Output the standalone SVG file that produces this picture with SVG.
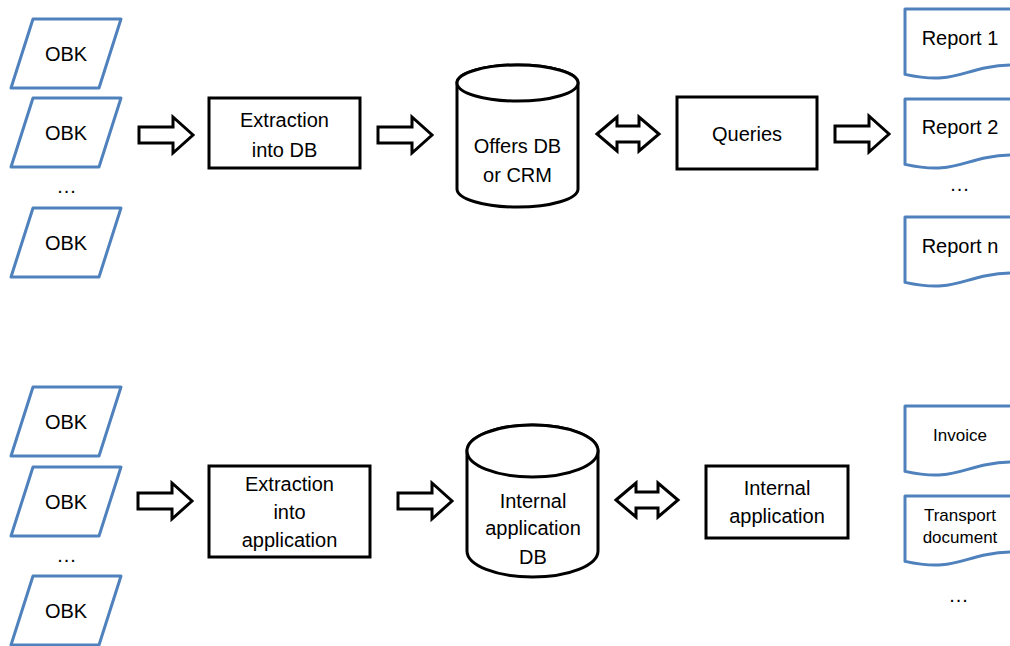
<svg xmlns="http://www.w3.org/2000/svg" width="1010" height="646" viewBox="0 0 1010 646">
<defs>
<style>
.io{fill:#fff;stroke:#4F81BD;stroke-width:3;stroke-linejoin:round}
.doc{fill:#fff;stroke:#4F81BD;stroke-width:3;stroke-linejoin:round}
.box{fill:#fff;stroke:#000;stroke-width:3}
.cyl{fill:#fff;stroke:#000;stroke-width:3}
.arr{fill:#fff;stroke:#000;stroke-width:3;stroke-linejoin:miter}
text{font-family:"Liberation Sans",Arial,sans-serif;font-size:20px;fill:#000;text-anchor:middle}
.sm{font-size:17px}
.dots{letter-spacing:1px}
</style>
<path id="io" d="M22,0 H110 L88,69 H0 Z"/>
<path id="doc" d="M0,0 H112 V56 C56,56 56,77.5 0,65.4 Z"/>
<path id="ra" d="M0,-8 H34 V-18 L54,0 L34,18 V8 H0 Z"/>
<path id="da" d="M0,0 L20,-17 V-8 H42 V-17 L62,0 L42,17 V8 H20 V17 Z"/>
</defs>
<rect width="1010" height="646" fill="#fff"/>

<g id="connectors">
<use href="#ra" class="arr" x="139" y="135"/>
<use href="#ra" class="arr" x="378" y="135"/>
<use href="#da" class="arr" x="597" y="134"/>
<use href="#ra" class="arr" x="835" y="134"/>
<use href="#ra" class="arr" x="138" y="501"/>
<use href="#ra" class="arr" x="398" y="501"/>
<use href="#da" class="arr" x="616" y="500"/>
</g>

<g id="obk1"><use href="#io" class="io" x="11" y="19"/><text x="66" y="61">OBK</text></g>
<g id="obk2"><use href="#io" class="io" x="11" y="98"/><text x="66" y="140">OBK</text></g>
<g id="dots1"><text class="dots" x="67" y="193">...</text></g>
<g id="obk3"><use href="#io" class="io" x="11" y="208"/><text x="66" y="250">OBK</text></g>

<g id="extract-db"><rect class="box" x="209" y="98" width="151" height="70"/><text x="284.5" y="127">Extraction</text><text x="284.5" y="157">into DB</text></g>

<g id="offers-db">
<path class="cyl" d="M457,83 V189 A60.5,18 0 0 0 578,189 V83 A60.5,18 0 0 0 457,83 Z"/>
<ellipse class="cyl" cx="517.5" cy="83" rx="60.5" ry="18"/>
<text x="517.5" y="153">Offers DB</text><text x="517.5" y="182">or CRM</text>
</g>

<g id="queries"><rect class="box" x="677" y="97" width="140" height="72"/><text x="747" y="141">Queries</text></g>

<g id="report1"><use href="#doc" class="doc" x="905" y="9"/><text x="960" y="45">Report 1</text></g>
<g id="report2"><use href="#doc" class="doc" x="905" y="99"/><text x="960" y="134">Report 2</text></g>
<g id="dots2"><text class="dots" x="960" y="191">...</text></g>
<g id="reportn"><use href="#doc" class="doc" x="905" y="217"/><text x="960" y="253">Report n</text></g>

<g id="obk4"><use href="#io" class="io" x="11" y="387"/><text x="66" y="429">OBK</text></g>
<g id="obk5"><use href="#io" class="io" x="11" y="467"/><text x="66" y="509">OBK</text></g>
<g id="dots3"><text class="dots" x="67" y="562">...</text></g>
<g id="obk6"><use href="#io" class="io" x="11" y="576"/><text x="66" y="618">OBK</text></g>

<g id="extract-app"><rect class="box" x="209" y="466" width="161" height="91"/><text x="289.5" y="491">Extraction</text><text x="289.5" y="519">into</text><text x="289.5" y="547">application</text></g>

<g id="internal-db">
<path class="cyl" d="M467,451 V551 A65.5,26 0 0 0 598,551 V451 A65.5,26 0 0 0 467,451 Z"/>
<ellipse class="cyl" cx="532.5" cy="451" rx="65.5" ry="26"/>
<text x="533" y="508">Internal</text><text x="533" y="535">application</text><text x="533" y="564">DB</text>
</g>

<g id="internal-app"><rect class="box" x="706" y="466" width="142" height="72"/><text x="777" y="495">Internal</text><text x="777" y="523">application</text></g>

<g id="invoice"><use href="#doc" class="doc" x="905" y="406"/><text class="sm" x="960" y="441">Invoice</text></g>
<g id="transport"><use href="#doc" class="doc" x="905" y="496"/><text class="sm" x="960" y="521">Transport</text><text class="sm" x="960" y="543">document</text></g>
<g id="dots4"><text class="dots" x="959" y="602">...</text></g>
</svg>
